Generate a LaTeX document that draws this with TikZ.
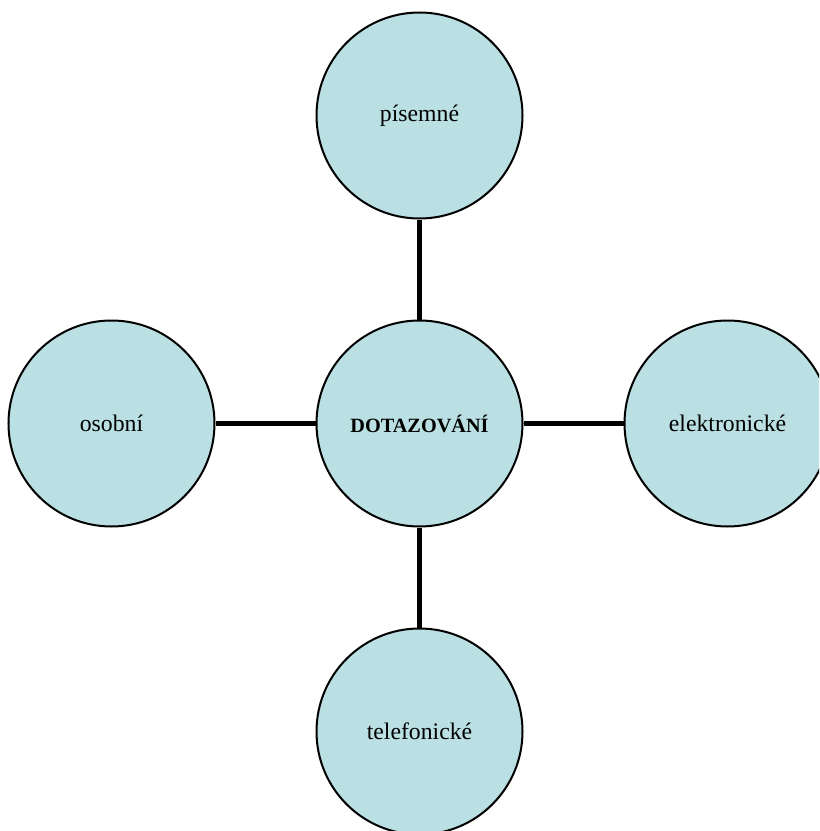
\documentclass[tikz,border=0pt]{standalone}
\usepackage{fontspec}
\setmainfont{Liberation Serif}

\definecolor{bubblefill}{RGB}{186,224,227}

\tikzset{
  bubble/.style={circle,draw=black,line width=1.5pt,fill=bubblefill,
                 minimum size=154.5pt,inner sep=0pt,font=\fontsize{17.8}{20}\selectfont},
  spoke/.style={line width=3.75pt,black}
}

\begin{document}
\begin{tikzpicture}[x=0.75pt,y=-0.75pt]

  \pgfmathsetmacro\cx{419.5}
  \pgfmathsetmacro\cy{423.5}
  \pgfmathsetmacro\dx{308}   % horizontal distance of side circles
  \pgfmathsetmacro\dy{308}   % vertical distance of top/bottom circles

  \useasboundingbox (0,0) rectangle (819,831);
  \clip (0,0) rectangle (819,831);

% circles
  \node[bubble] (dotaz) at (\cx,\cy) {\fontsize{15.2}{18}\selectfont\textbf{DOTAZOVÁNÍ}};
  \node[bubble] (pisem) at (\cx,\cy-\dy) {písemné};
  \node[bubble] (osob)  at (\cx-\dx,\cy) {osobní};
  \node[bubble] (elek)  at (\cx+\dx,\cy) {elektronické};
  \node[bubble] (tele)  at (\cx,\cy+\dy) {telefonické};

% connectors
  \draw[spoke] (dotaz) -- (pisem);
  \draw[spoke] (dotaz) -- (osob);
  \draw[spoke] (dotaz) -- (elek);
  \draw[spoke] (dotaz) -- (tele);

\end{tikzpicture}
\end{document}
